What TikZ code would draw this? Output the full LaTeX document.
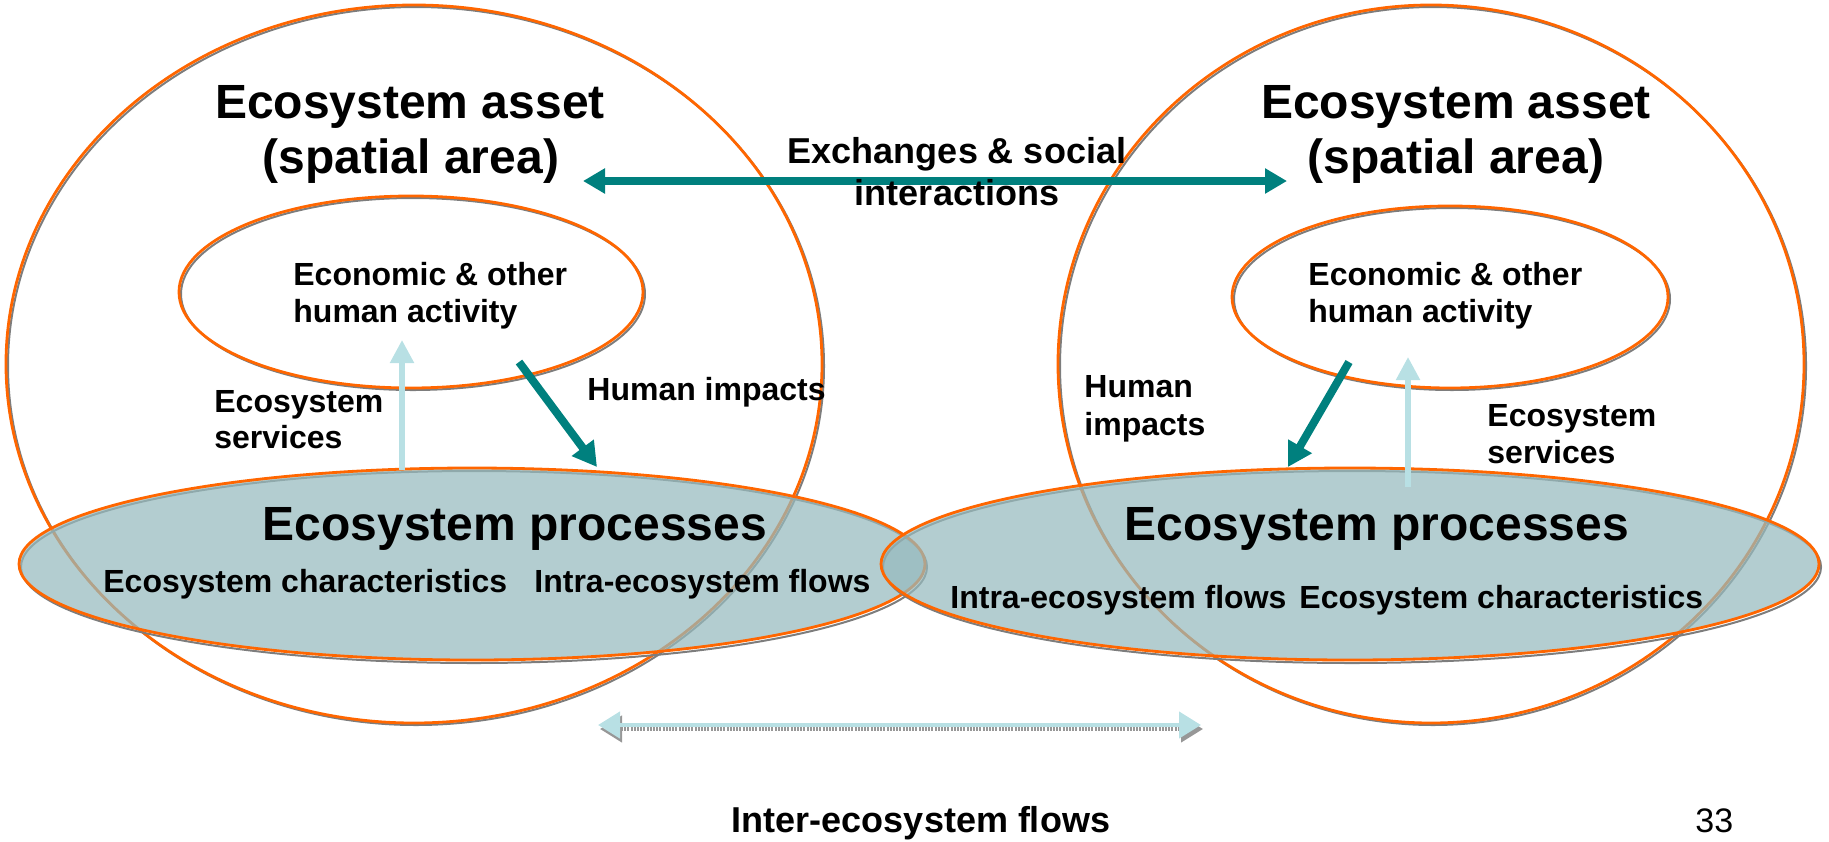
\documentclass[tikz,border=0pt]{standalone}
\usepackage{fontspec}
\setmainfont{Liberation Sans}
\usetikzlibrary{arrows.meta,shapes.geometric}
\definecolor{orng}{RGB}{255,102,0}
\definecolor{teal2}{RGB}{0,128,126}
\definecolor{lblue}{RGB}{184,224,228}
\definecolor{procfill}{RGB}{150,186,190}
\definecolor{shad}{RGB}{125,125,125}
\begin{document}
\begin{tikzpicture}[x=0.5pt,y=-0.5pt,
  ring/.style={ellipse, draw=orng, line width=1.4pt, inner sep=0pt, outer sep=0pt},
  proc/.style={ring, fill=procfill, fill opacity=0.72},
  shadowring/.style={draw=shad, line width=1pt},
  bigtxt/.style={font=\fontsize{24}{28}\selectfont\bfseries, inner sep=0pt, anchor=base},
  midtxt/.style={font=\fontsize{18}{22}\selectfont\bfseries, inner sep=0pt, anchor=base},
  smalltxt/.style={font=\fontsize{16}{19}\selectfont\bfseries, inner sep=0pt, anchor=base west},
  tealarr/.style={draw=teal2, line width=4pt, -{Triangle[length=12pt,width=13pt]}},
  tealdbl/.style={draw=teal2, line width=4pt, {Triangle[length=11pt,width=12pt]}-{Triangle[length=11pt,width=12pt]}},
  servarr/.style={draw=lblue, line width=2.6pt, -{Triangle[length=11.5pt,width=11.5pt]}},
  interarr/.style={draw=lblue, line width=2.2pt, {Triangle[length=11pt,width=13pt]}-{Triangle[length=11pt,width=13pt]}},
  intershad/.style={draw=shad!80, line width=2.2pt, dash pattern=on 1pt off 0.6pt, {Triangle[length=11pt,width=13pt]}-{Triangle[length=11pt,width=13pt]}}
]
\useasboundingbox (0,0) rectangle (1829,841);

% shadows of rings
\draw[shadowring] (416,366) ellipse [x radius=408, y radius=359];
\draw[shadowring] (1433,366) ellipse [x radius=373, y radius=359];
\draw[shadowring] (413,294) ellipse [x radius=232, y radius=96];
\draw[shadowring] (1452,299) ellipse [x radius=218, y radius=91];

% outer asset rings
\node[ring, minimum width=408pt, minimum height=359pt] (assetL) at (414,364) {};
\node[ring, minimum width=373pt, minimum height=359pt] (assetR) at (1431,364) {};
% inner activity rings
\node[ring, minimum width=232pt, minimum height=96pt] (actL) at (411,292) {};
\node[ring, minimum width=218pt, minimum height=91pt] (actR) at (1450,297) {};

% process ellipses
\draw[shadowring] (474,567) ellipse [x radius=453, y radius=96];
\node[proc, minimum width=453pt, minimum height=96pt] (procL) at (472,564) {};
\draw[shadowring] (1352,567) ellipse [x radius=469, y radius=96];
\node[proc, minimum width=469pt, minimum height=96pt] (procR) at (1350,564) {};

% arrow end points
\coordinate (exL) at (583,181);
\coordinate (exR) at (1287,181);
\coordinate (hiLs) at (519,362);
\coordinate (hiLe) at (597,467);
\coordinate (hiRs) at (1349,362);
\coordinate (hiRe) at (1288,467);
\coordinate (esLs) at (402,470);
\coordinate (esLe) at (402,340);
\coordinate (esRs) at (1408,487);
\coordinate (esRe) at (1408,357);
\coordinate (ifL) at (598,725);
\coordinate (ifR) at (1201,725);
\coordinate (ifLs) at (600,729);
\coordinate (ifRs) at (1203,729);

% arrows
\draw[tealdbl] (exL) -- (exR);
\draw[tealarr] (hiLs) -- (hiLe);
\draw[tealarr] (hiRs) -- (hiRe);
\draw[servarr] (esLs) -- (esLe);
\draw[servarr] (esRs) -- (esRe);
\draw[intershad] (ifLs) -- (ifRs);
\draw[interarr] (ifL) -- (ifR);

% texts
\node[bigtxt] (tL1) at (410,118) {Ecosystem asset};
\node[bigtxt] (tL2) at (411,173) {(spatial area)};
\node[bigtxt] (tR1) at (1456,118) {Ecosystem asset};
\node[bigtxt] (tR2) at (1456,173) {(spatial area)};

\node[midtxt] (ex1) at (957,163) {Exchanges \& social};
\node[midtxt] (ex2) at (957,205) {interactions};

\node[smalltxt] (eL1) at (293,285) {Economic \& other};
\node[smalltxt] (eL2) at (293,322) {human activity};
\node[smalltxt] (eR1) at (1308,285) {Economic \& other};
\node[smalltxt] (eR2) at (1308,322) {human activity};

\node[smalltxt] (sL1) at (214,412) {Ecosystem};
\node[smalltxt] (sL2) at (214,448) {services};
\node[smalltxt] (hL) at (587,400) {Human impacts};
\node[smalltxt] (hR1) at (1084,397) {Human};
\node[smalltxt] (hR2) at (1084,435) {impacts};
\node[smalltxt] (sR1) at (1487,426) {Ecosystem};
\node[smalltxt] (sR2) at (1487,463) {services};

\node[bigtxt] (pL) at (515,540) {Ecosystem processes};
\node[bigtxt] (pR) at (1377,540) {Ecosystem processes};
\node[smalltxt] (cL) at (103,592) {Ecosystem characteristics};
\node[smalltxt] (iL) at (534,592) {Intra-ecosystem flows};
\node[smalltxt] (iR) at (950,608) {Intra-ecosystem flows};
\node[smalltxt] (cR) at (1299,608) {Ecosystem characteristics};

\node[midtxt] (inter) at (921,832) {Inter-ecosystem flows};
\node[font=\fontsize{17}{20}\selectfont, inner sep=0pt, anchor=base west] (page) at (1695,832) {33};
\end{tikzpicture}
\end{document}
